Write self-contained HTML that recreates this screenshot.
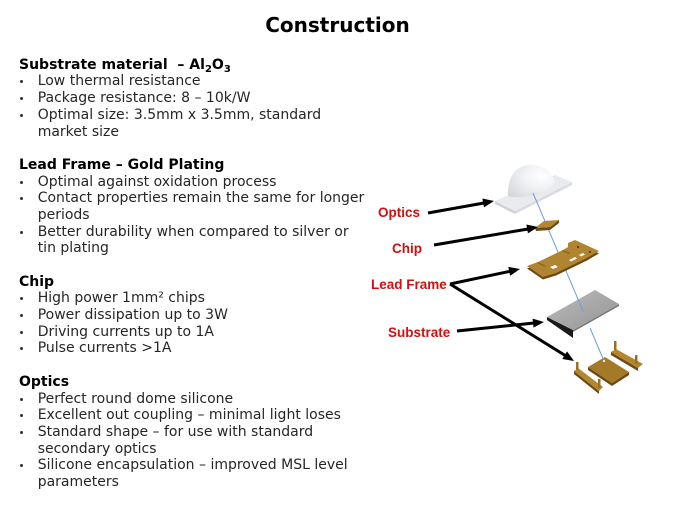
<!DOCTYPE html>
<html>
<head>
<meta charset="utf-8">
<style>
  html,body{margin:0;padding:0;background:#fff;}
  body{width:675px;height:506px;position:relative;overflow:hidden;}
  #title{position:absolute;left:0;width:675px;top:15px;text-align:center;
    font:bold 20px/20px "DejaVu Sans","Liberation Sans",sans-serif;color:#000;}
  #txt{position:absolute;left:0;top:56.8px;width:380px;
    font:14px/16.7px "DejaVu Sans","Liberation Sans",sans-serif;color:#262626;}
  #txt div{height:16.7px;white-space:nowrap;position:relative;}
  .h{font-weight:bold;color:#000;padding-left:19px;}
  .b,.c{padding-left:37.7px;}
  .b::before{content:"";position:absolute;left:20px;top:7px;width:3px;height:3px;border-radius:50%;background:#333;}
  .s{font-size:10px;line-height:0;position:relative;top:3px;}
  svg{position:absolute;left:0;top:0;}
</style>
</head>
<body>
<div id="title">Construction</div>
<div id="txt">
  <div class="h">Substrate material&nbsp; – Al<span class="s">2</span>O<span class="s">3</span></div>
  <div class="b">Low thermal resistance</div>
  <div class="b">Package resistance: 8 – 10k/W</div>
  <div class="b">Optimal size: 3.5mm x 3.5mm, standard</div>
  <div class="c">market size</div>
  <div></div>
  <div class="h">Lead Frame – Gold Plating</div>
  <div class="b">Optimal against oxidation process</div>
  <div class="b">Contact properties remain the same for longer</div>
  <div class="c">periods</div>
  <div class="b">Better durability when compared to silver or</div>
  <div class="c">tin plating</div>
  <div></div>
  <div class="h">Chip</div>
  <div class="b">High power 1mm² chips</div>
  <div class="b">Power dissipation up to 3W</div>
  <div class="b">Driving currents up to 1A</div>
  <div class="b">Pulse currents &gt;1A</div>
  <div></div>
  <div class="h">Optics</div>
  <div class="b">Perfect round dome silicone</div>
  <div class="b">Excellent out coupling – minimal light loses</div>
  <div class="b">Standard shape – for use with standard</div>
  <div class="c">secondary optics</div>
  <div class="b">Silicone encapsulation – improved MSL level</div>
  <div class="c">parameters</div>
</div>

<svg width="675" height="506" viewBox="0 0 675 506">
  <defs>
    <radialGradient id="dome" cx="0.7" cy="0.35" r="0.9">
      <stop offset="0" stop-color="#ffffff"/>
      <stop offset="0.4" stop-color="#f1f2f4"/>
      <stop offset="1" stop-color="#d2d5d9"/>
    </radialGradient>
    <linearGradient id="sub" x1="0" y1="0" x2="1" y2="1">
      <stop offset="0" stop-color="#bdbdbd"/>
      <stop offset="1" stop-color="#939393"/>
    </linearGradient>
  </defs>

  <!-- Optics plate + dome -->
  <polygon points="495,201 515,211 515,214 495,204" fill="#cfd3d7"/>
  <polygon points="515,211 572,182 572,185 515,214" fill="#d9dce0"/>
  <polygon points="495,201 515,211 572,182 555,175" fill="#e9ebee"/>
  <path d="M508,196 C507,177 516,165 530,165 C544,165 553,172 555,183 C548,193 528,200 508,196 Z" fill="url(#dome)"/>

  <!-- Substrate -->
  <polygon points="547,317 573,330 573,338 547,320" fill="#1a1a1a"/>
  <polygon points="573,330 619,304 619,306 573,332" fill="#7a7a7a"/>
  <polygon points="547,317 595,290 619,304 573,330" fill="url(#sub)"/>

  <!-- axis line segment 1 -->
  <line x1="533" y1="193" x2="583" y2="311" stroke="#6f9fd6" stroke-width="1"/>

  <!-- Chip -->
  <polygon points="535,228 550,227 559,220 559,223 550,230 536,231" fill="#6b4a14"/>
  <polygon points="535,228 544,221 559,220 550,227" fill="#b3862f"/>

  <!-- Lead frame (upper) -->
  <polygon transform="translate(0,2.5)" fill="#6b4a14"
    points="527,266 538,262 563,250 568,247 568,243 575,240 599,251 592,255 587,258 556,273 543,277"/>
  <polygon fill="#b08430"
    points="527,266 538,262 563,250 568,247 568,243 575,240 599,251 592,255 587,258 556,273 543,277"/>
  <polygon points="550,267 555,265 558,267 553,269" fill="#fff"/>
  <polygon points="569,260 575,257 577,258.5 571,261.5" fill="#fff"/>
  <polygon points="579,255 583,253 585,254.5 581,256.5" fill="#fff"/>
  <polygon points="538,262 546,266 545,267 537,263" fill="#8a6420"/>
  <polygon points="563,250 570,253 569,254 562,251" fill="#8a6420"/>
  <circle cx="578" cy="247" r="1.1" fill="#5e3f10"/>
  <circle cx="590" cy="252" r="1.1" fill="#5e3f10"/>

  <!-- Bottom lead frame parts -->
  <g fill="#6b4a14">
    <polygon points="588,367 612,383 612,386 588,370"/>
    <polygon points="612,383 629,372 629,375 612,386"/>
    <polygon points="611,352 638,368 638,371 611,355"/>
    <polygon points="574,371 599,391 599,394 574,374"/>
  </g>
  <polygon points="588,367 605,357 629,372 612,383" fill="#a47a28"/>
  <polygon points="611,352 616,349 643,364 638,368" fill="#b3862f"/>
  <polygon points="574,371 578,368 603,387 599,391" fill="#b3862f"/>
  <rect x="614" y="341" width="2.5" height="9" fill="#9a7026"/>
  <rect x="635" y="355" width="2.5" height="9" fill="#9a7026"/>
  <rect x="576" y="362" width="2.5" height="8" fill="#9a7026"/>
  <rect x="598" y="379" width="2.5" height="9" fill="#9a7026"/>

  <!-- axis line segment 2 -->
  <line x1="590" y1="328" x2="604" y2="361" stroke="#6f9fd6" stroke-width="1"/>
  <circle cx="604" cy="361" r="1.2" fill="#dde6f0"/>

  <!-- Arrows -->
  <g stroke="#000" stroke-width="3" fill="none">
    <line x1="428" y1="213" x2="484" y2="203"/>
    <line x1="434" y1="245" x2="528" y2="229"/>
    <line x1="450" y1="284" x2="510" y2="271.3"/>
    <line x1="450" y1="284" x2="565" y2="355.4"/>
    <line x1="457" y1="331" x2="534" y2="323"/>
  </g>
  <g fill="#000">
    <polygon points="494,201 483.98,207.4 482.37,198.54"/>
    <polygon points="538,227 527.93,233.32 526.39,224.44"/>
    <polygon points="520,269 510.18,275.7 508.3,266.9"/>
    <polygon points="574,361 562.29,359.02 567.03,351.38"/>
    <polygon points="544,322 533.52,327.61 532.6,318.65"/>
  </g>

  <!-- Labels -->
  <g font-family="Liberation Sans, sans-serif" font-weight="bold" font-size="13.5" fill="#d01010">
    <text x="378" y="217">Optics</text>
    <text x="392" y="253">Chip</text>
    <text x="371" y="289">Lead Frame</text>
    <text x="388" y="337">Substrate</text>
  </g>
</svg>
</body>
</html>
